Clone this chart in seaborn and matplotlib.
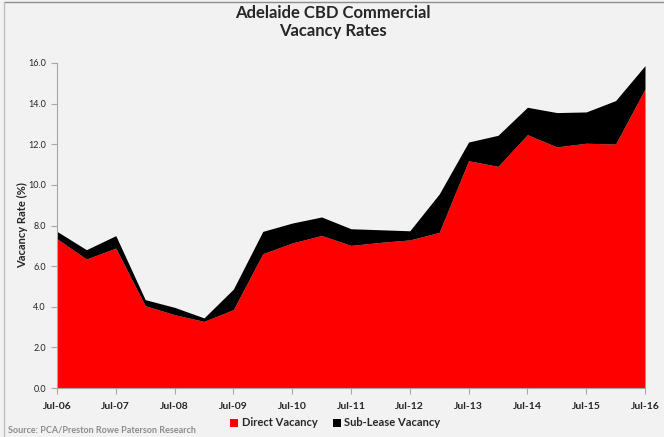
import matplotlib
matplotlib.use("Agg")
import matplotlib.pyplot as plt
from matplotlib.lines import Line2D
from matplotlib.patches import Patch
import seaborn as sns
import numpy as np

periods = ["Jul-06", "Jan-07", "Jul-07", "Jan-08", "Jul-08", "Jan-09", "Jul-09",
           "Jan-10", "Jul-10", "Jan-11", "Jul-11", "Jan-12", "Jul-12", "Jan-13",
           "Jul-13", "Jan-14", "Jul-14", "Jan-15", "Jul-15", "Jan-16", "Jul-16"]
direct_vacancy = [7.35, 6.35, 6.89, 4.05, 3.61, 3.28, 3.86, 6.61, 7.14, 7.51, 7.02,
                  7.17, 7.29, 7.66, 11.19, 10.91, 12.47, 11.87, 12.05, 12.01, 14.72]
sublease_vacancy = [0.36, 0.46, 0.61, 0.30, 0.36, 0.17, 1.01, 1.10, 0.98, 0.91, 0.82,
                    0.62, 0.45, 1.89, 0.92, 1.53, 1.35, 1.69, 1.54, 2.14, 1.15]
tick_labels = ["Jul-06", "Jul-07", "Jul-08", "Jul-09", "Jul-10", "Jul-11",
               "Jul-12", "Jul-13", "Jul-14", "Jul-15", "Jul-16"]
y_ticks = [0.0, 2.0, 4.0, 6.0, 8.0, 10.0, 12.0, 14.0, 16.0]

sns.set_theme(style="white")
plt.rcParams["font.family"] = ["Lato", "DejaVu Sans"]

bg = "#f2f2f2"
text_col = "#262626"
axis_col = "#a6a6a6"

fig = plt.figure(figsize=(6.64, 4.37), dpi=100, facecolor=bg)
ax = fig.add_axes([57 / 664, 1 - 388 / 437, (645 - 57) / 664, (388 - 63) / 437])
ax.set_facecolor(bg)

x = np.arange(len(periods))
ax.stackplot(x, direct_vacancy, sublease_vacancy,
             colors=["#ff0000", "#000000"], linewidth=0)

ax.set_xlim(0, len(periods) - 1)
ax.set_ylim(0, 16)
ax.set_xticks(x[::2])
ax.set_xticklabels(tick_labels)
ax.set_yticks(y_ticks)
ax.set_yticklabels([f"{v:.1f}" for v in y_ticks])

ax.tick_params(axis="x", direction="out", length=4, width=0.8, color=axis_col,
               labelsize=7.5, labelcolor=text_col, pad=6, bottom=True)
ax.tick_params(axis="y", direction="out", length=4, width=0.8, color=axis_col,
               labelsize=6.5, labelcolor=text_col, pad=4, left=True)
for lab in ax.get_xticklabels():
    lab.set_fontweight("bold")

sns.despine(ax=ax)
for side in ("left", "bottom"):
    ax.spines[side].set_color(axis_col)
    ax.spines[side].set_linewidth(0.8)

ax.set_ylabel("Vacancy Rate (%)", fontsize=8, fontweight="bold", color=text_col)
ax.yaxis.set_label_coords(-(57 - 28) / 588, 0.5)

fig.text(0.502, 1 - 22 / 437, "Adelaide CBD Commercial\nVacancy Rates",
         ha="center", va="center", fontsize=12, fontweight="bold",
         color=text_col, linespacing=1.2)

handles = [Patch(facecolor="#ff0000", edgecolor="none", label="Direct Vacancy"),
           Patch(facecolor="#000000", edgecolor="none", label="Sub-Lease Vacancy")]
fig.legend(handles=handles, loc="center", bbox_to_anchor=(0.505, 1 - 423 / 437),
           ncol=2, frameon=False, handlelength=0.7, handleheight=0.7,
           handletextpad=0.3, columnspacing=1.4,
           prop={"family": ["Lato", "DejaVu Sans"], "weight": "bold", "size": 8})

fig.text(8 / 664, 1 - 430 / 437, "Source: PCA/Preston Rowe Paterson Research",
         ha="left", va="center", fontsize=6.5, fontweight="bold", color="#8c8c8c")

# thin frame along the top and left edges of the panel
fig.add_artist(Line2D([4 / 664, 1], [1 - 1.5 / 437, 1 - 1.5 / 437],
                      transform=fig.transFigure, color="#8c8c8c", linewidth=1))
fig.add_artist(Line2D([4 / 664, 4 / 664], [0, 1 - 1.5 / 437],
                      transform=fig.transFigure, color="#bfbfbf", linewidth=1))

fig.savefig("out.png", dpi=100, facecolor=bg)
